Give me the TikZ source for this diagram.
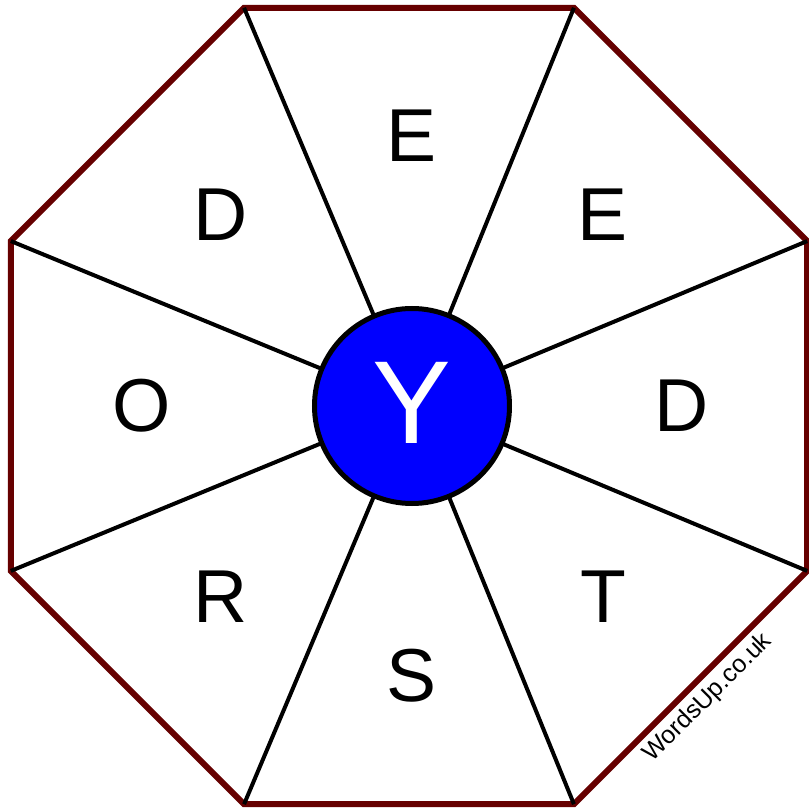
\documentclass[tikz,border=0pt]{standalone}
\usepackage{fontspec}
\setmainfont{Liberation Sans}
\usetikzlibrary{calc}
\definecolor{rimred}{HTML}{660000}
\definecolor{hubblue}{HTML}{0000FF}
\tikzset{
  rim/.style={draw=rimred, line width=6pt, line join=miter},
  spoke/.style={draw=black, line width=4pt},
  hub/.style={circle, draw=black, line width=5pt, fill=hubblue, text=white,
              minimum size=195pt, inner sep=0pt, font=\fontsize{118}{118}\selectfont},
  letter/.style={inner sep=0pt, font=\fontsize{75}{75}\selectfont},
  wmark/.style={inner sep=0pt, rotate=45, font=\fontsize{25}{25}\selectfont}
}

\begin{document}
\begin{tikzpicture}[x=1pt, y=1pt]
  \useasboundingbox (-412,406) rectangle (396,-404);
  % octagon corners
  \foreach \i in {1,...,8}
    \coordinate (v\i) at ($(-3,0)+({22.5+45*(\i-1)}:431)$);
  \draw[rim] (v1) -- (v2) -- (v3) -- (v4) -- (v5) -- (v6) -- (v7) -- (v8) -- cycle;
  \foreach \i in {1,...,8}
    \draw[spoke] (0,0) -- (v\i);
  \node[hub] (hub) at (0,0) {\raisebox{6pt}{Y}};
  % outer letters
  \foreach \ang/\ch [count=\k] in {90/E, 45/E, 0/D, -45/T, -90/S, -135/R, 180/O, 135/D}
    \node[letter] (l\k) at (\ang:270) {\ch};
  \node[wmark] (site) at (296,-292) {WordsUp.co.uk};
\end{tikzpicture}
\end{document}
